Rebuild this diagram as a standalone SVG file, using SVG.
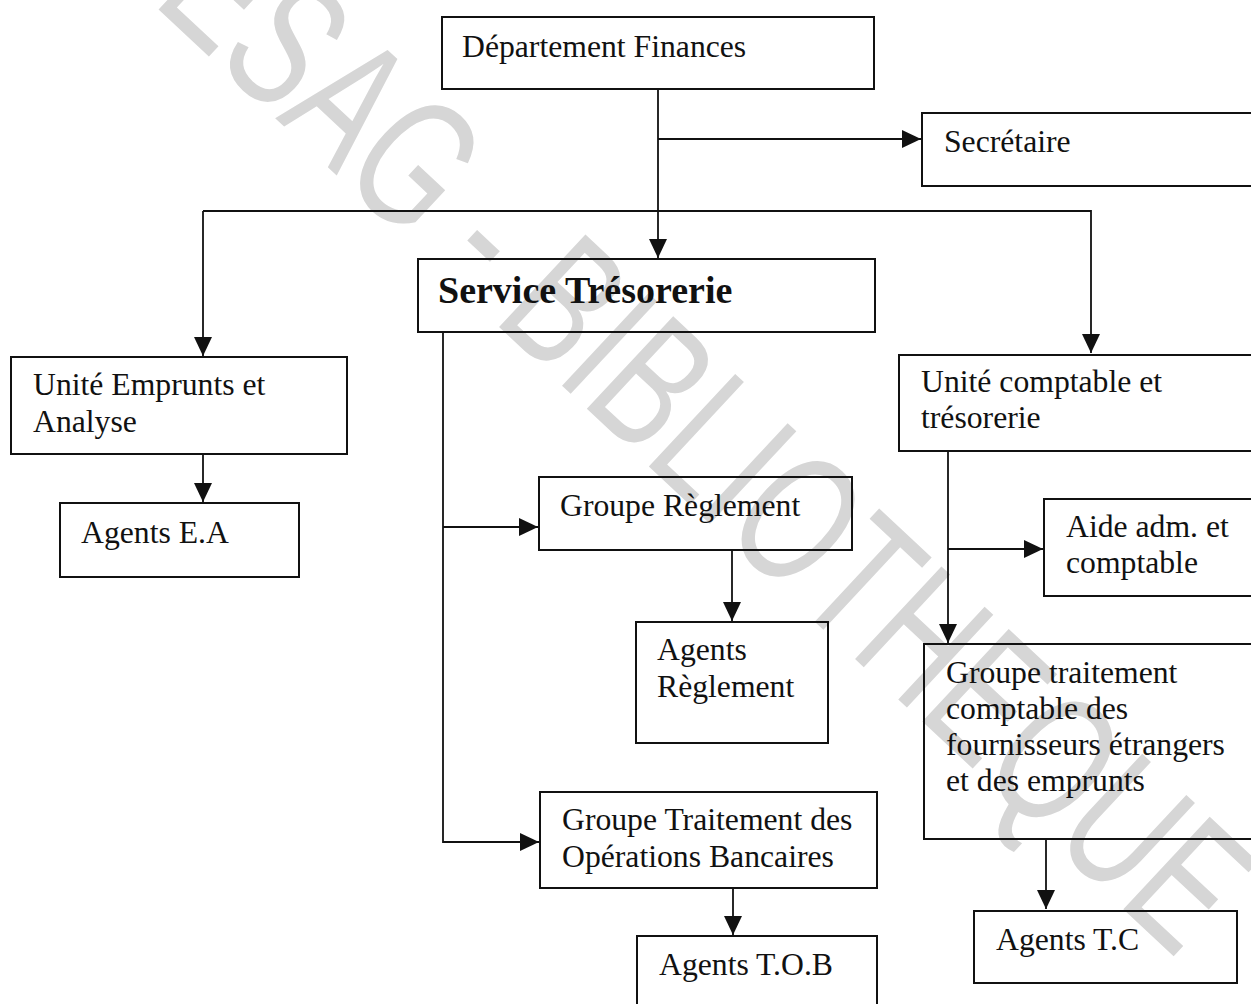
<svg xmlns="http://www.w3.org/2000/svg" width="1251" height="1004" viewBox="0 0 1251 1004">
<style>
.box{fill:none;stroke:#111;stroke-width:2}
.t{font-family:"Liberation Serif","Times New Roman",serif;font-size:31.7px;fill:#111}
.b{font-family:"Liberation Serif","Times New Roman",serif;font-size:38px;font-weight:bold;fill:#111}
.c{fill:none;stroke:#111;stroke-width:1.8}
.wm{font-family:"Liberation Sans",Arial,sans-serif;font-size:184px;fill:#d6d6d6}
</style>
<defs>
<marker id="ah" markerUnits="userSpaceOnUse" markerWidth="20" markerHeight="18" refX="19" refY="9" orient="auto">
<path d="M0,0 L19,9 L0,18 Z" fill="#111"/>
</marker>
</defs>
<rect width="1251" height="1004" fill="#fff"/>
<text class="wm" transform="translate(84,-60) rotate(43) scale(0.69,1)">CESAG - BIBLIOTHEQUE</text>
<g id="connectors">
<path class="c" d="M658,89 V258" marker-end="url(#ah)"/>
<path class="c" d="M658,139 H921" marker-end="url(#ah)"/>
<path class="c" d="M203,211 H1091 V353" marker-end="url(#ah)"/>
<path class="c" d="M203,211 V356" marker-end="url(#ah)"/>
<path class="c" d="M203,454 V502" marker-end="url(#ah)"/>
<path class="c" d="M443,332 V842 H539" marker-end="url(#ah)"/>
<path class="c" d="M443,527 H538" marker-end="url(#ah)"/>
<path class="c" d="M732,550 V621" marker-end="url(#ah)"/>
<path class="c" d="M733,888 V935" marker-end="url(#ah)"/>
<path class="c" d="M948,451 V643" marker-end="url(#ah)"/>
<path class="c" d="M948,549 H1043" marker-end="url(#ah)"/>
<path class="c" d="M1046,839 V909" marker-end="url(#ah)"/>
</g>
<g id="dept-finances">
<rect class="box" x="442" y="17" width="432" height="72"/>
<text class="t" x="462" y="57">Département Finances</text>
</g>
<g id="secretaire">
<rect class="box" x="922" y="113" width="340" height="73"/>
<text class="t" x="944" y="152">Secrétaire</text>
</g>
<g id="service-tresorerie">
<rect class="box" x="418" y="259" width="457" height="73"/>
<text class="b" x="438" y="303">Service Trésorerie</text>
</g>
<g id="unite-emprunts">
<rect class="box" x="11" y="357" width="336" height="97"/>
<text class="t" x="33" y="395">Unité Emprunts et</text>
<text class="t" x="33" y="432">Analyse</text>
</g>
<g id="agents-ea">
<rect class="box" x="60" y="503" width="239" height="74"/>
<text class="t" x="81" y="543">Agents E.A</text>
</g>
<g id="unite-comptable">
<rect class="box" x="899" y="355" width="362" height="96"/>
<text class="t" x="921" y="392">Unité comptable et</text>
<text class="t" x="921" y="428">trésorerie</text>
</g>
<g id="groupe-reglement">
<rect class="box" x="539" y="477" width="313" height="73"/>
<text class="t" x="560" y="516">Groupe Règlement</text>
</g>
<g id="agents-reglement">
<rect class="box" x="636" y="622" width="192" height="121"/>
<text class="t" x="657" y="660">Agents</text>
<text class="t" x="657" y="697">Règlement</text>
</g>
<g id="aide-adm">
<rect class="box" x="1044" y="499" width="218" height="97"/>
<text class="t" x="1066" y="537">Aide adm. et</text>
<text class="t" x="1066" y="573">comptable</text>
</g>
<g id="groupe-traitement-comptable">
<rect class="box" x="924" y="644" width="338" height="195"/>
<text class="t" x="946" y="683">Groupe traitement</text>
<text class="t" x="946" y="719">comptable des</text>
<text class="t" x="946" y="755">fournisseurs étrangers</text>
<text class="t" x="946" y="791">et des emprunts</text>
</g>
<g id="groupe-tob">
<rect class="box" x="540" y="792" width="337" height="96"/>
<text class="t" x="562" y="830">Groupe Traitement des</text>
<text class="t" x="562" y="867">Opérations Bancaires</text>
</g>
<g id="agents-tob">
<rect class="box" x="637" y="936" width="240" height="80"/>
<text class="t" x="659" y="975">Agents T.O.B</text>
</g>
<g id="agents-tc">
<rect class="box" x="974" y="911" width="263" height="72"/>
<text class="t" x="996" y="950">Agents T.C</text>
</g>
</svg>
